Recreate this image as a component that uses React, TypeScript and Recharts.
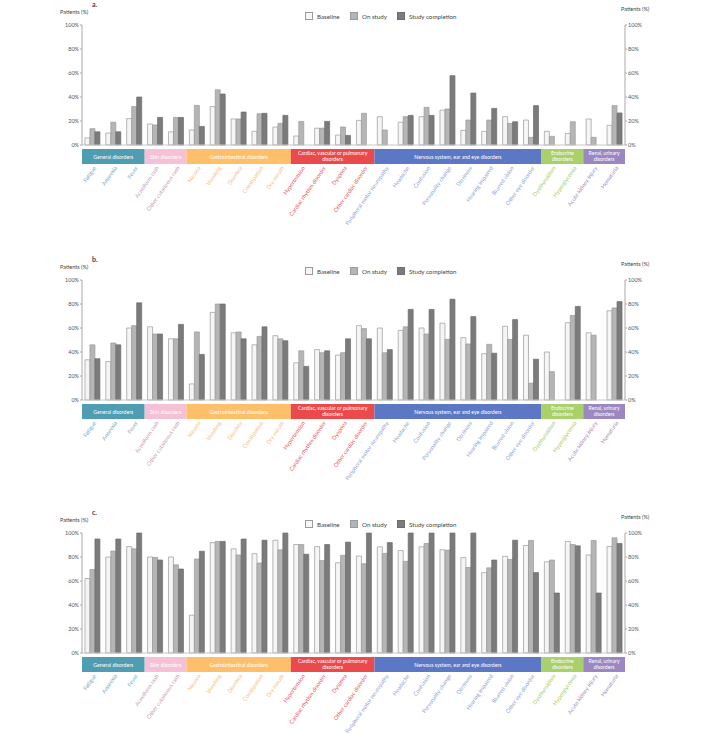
import { ComposedChart, Bar, Line, XAxis, YAxis } from 'recharts';

const categories = [
  'Fatigue', 'Anorexia', 'Fever', 'Acneiform rash', 'Other cutaneous rash',
  'Nausea', 'Vomiting', 'Diarrhea', 'Constipation', 'Dry mouth',
  'Hypertension', 'Cardiac rhythm disorder', 'Dyspnea', 'Other cardiac disorder',
  'Peripheral motor neuropathy', 'Headache', 'Confusion', 'Personality change',
  'Dizziness', 'Hearing impaired', 'Blurred vision', 'Other eye disorder',
  'Dysthyroidism', 'Hyperglycemia', 'Acute kidney injury', 'Hematuria',
];

const groupNames = [
  ['General disorders'],
  ['Skin disorders'],
  ['Gastrointestinal disorders'],
  ['Cardiac, vascular or pulmonary', 'disorders'],
  ['Nervous system, ear and eye disorders'],
  ['Endocrine', 'disorders'],
  ['Renal,  urinary', 'disorders'],
];
const groupSizes = [3, 2, 5, 4, 8, 2, 2];
const groupColors = ['#4f9db3', '#f6c1d7', '#fdbf69', '#eb4a4c', '#5c78c4', '#a9d06b', '#9c88c0'];
const labelColors = ['#6fa5ba', '#c59bb3', '#f6bd84', '#e4585d', '#8e9fd6', '#a6cc62', '#9f8ac0'];

const seriesNames = ['Baseline', 'On study', 'Study completion'];
const yTicks = [0, 20, 40, 60, 80, 100];

// panel a
const aBaseline = [6, 10, 22, 17.5, 11, 12.5, 32, 21.7, 11.4, 15, 7.5, 14, 8.3, 20.5, 23.6, 19, 23.6, 29, 12.2, 11.4, 23.6, 20.8, 11.4, 9.7, 21.7, 16.4];
const aOnStudy = [13.6, 19, 32, 16.7, 23, 33, 46, 21.7, 26, 18, 19.7, 14, 15, 26.4, 12.5, 23.6, 31.4, 30, 20.8, 20.8, 18, 6.4, 7.2, 19.4, 6.4, 32.8];
const aCompletion = [11, 11, 40, 23, 23, 15.5, 42.5, 27.5, 26.4, 24.7, null, 19.7, 8, null, null, 24.7, 24.7, 57.8, 43.3, 30.5, 19.4, 32.8, null, null, null, 26.7];

// panel b
const bBaseline = [33.5, 32, 60, 61, 51, 13.4, 73, 56, 46, 53.6, 31, 42, 37.4, 62, 60, 58, 60, 64, 52, 38.6, 61.4, 54, 40, 64.4, 56, 74.4];
const bOnStudy = [46, 47.5, 62, 55, 51, 56.7, 80, 56.7, 53, 51, 41, 39.4, 39.4, 59.5, 39.4, 61, 55, 50.5, 46.7, 46.4, 50.5, 14, 23.6, 70.5, 54, 76.7];
const bCompletion = [34.4, 46, 81, 55, 63, 38, 80, 51, 61, 49.4, 28, 41, 51, 51, 42, 75.5, 75.5, 84, 69.5, 39, 67, 34, null, 78, null, 82];

// panel c
const cBaseline = [62, 80, 88.7, 80, 80, 31.5, 92, 86.8, 82.8, 94, 90.4, 88.7, 75.2, 80.8, 88.5, 85.4, 88.5, 86, 79.5, 67, 80.6, 89.6, 76, 93, 81.7, 88.8];
const cOnStudy = [69.6, 85, 86.8, 79.7, 73.5, 78.3, 93, 81.7, 75, 86, 90.4, 77, 81.4, 74.4, 83, 76.4, 91.3, 85.7, 71.3, 71, 78, 93.8, 77.5, 90.4, 93.8, 96];
const cCompletion = [95, 95, 100, 77.5, 70, 84.8, 93, 95, 94, 100, 82.3, 90.4, 92.4, 100, 92, 100, 100, 100, 100, 77.5, 94, 67, 50, 89.3, 50, 91.3];

const FONT = 'Lato, "Open Sans", sans-serif';
const CHART_W = 705;
const CHART_H = 232;
const MARGIN = { top: 25, right: 50, bottom: 0, left: 52 };
const YAXIS_W = 30;
const XAXIS_H = 87;
const PLOT_W = CHART_W - MARGIN.left - MARGIN.right - 2 * YAXIS_W;
const STEP = PLOT_W / categories.length;
const LEGEND_X = [305, 350, 397];

const groupOf: number[] = [];
const groupStart: number[] = [];
groupSizes.forEach((n, g) => {
  groupStart.push(groupOf.length);
  for (let i = 0; i < n; i++) groupOf.push(g);
});

const fills = ['#f5f5f5', '#b5b5b5', '#7b7b7b'];
const strokes = ['#9a9a9a', '#9a9a9a', '#6d6d6d'];

function CategoryTick({ x, y, payload, index }: any) {
  const g = groupOf[index];
  const first = groupStart[g] === index;
  const lines = groupNames[g];
  const top = y + 2;
  const w = groupSizes[g] * STEP;
  const cx = x - STEP / 2 + w / 2;
  const lx = x + 4;
  const ly = top + 19;
  return (
    <g>
      {first && (
        <g>
          <rect x={x - STEP / 2} y={top} width={w} height={15} fill={groupColors[g]} />
          <text x={cx} y={top + (lines.length > 1 ? 6 : 9.5)} textAnchor="middle" fill="#fff" fontSize={5.2} fontFamily={FONT}>
            {lines.map((l, i) => (
              <tspan key={i} x={cx} dy={i === 0 ? 0 : 6.3}>{l}</tspan>
            ))}
          </text>
        </g>
      )}
      <text
        x={lx}
        y={ly}
        textAnchor="end"
        fill={labelColors[g]}
        fontSize={5.6}
        fontFamily={FONT}
        transform={`rotate(-55 ${lx} ${ly})`}
      >
        {payload.value}
      </text>
    </g>
  );
}

function Panel({ top, title, baseline, onStudy, completion }: any) {
  const data = categories.map((name, i) => ({
    name,
    baseline: baseline[i],
    onStudy: onStudy[i],
    completion: completion[i],
  }));
  const keys = ['baseline', 'onStudy', 'completion'];
  const axisTick = { fontSize: 5.5, fill: '#555', fontFamily: FONT };
  return (
    <div style={{ position: 'absolute', left: 0, top, width: CHART_W, height: CHART_H, fontFamily: FONT }}>
      <div style={{ position: 'absolute', left: 92, top: 0, fontSize: 7, fontWeight: 'bold', color: '#444' }}>{title}</div>
      <div style={{ position: 'absolute', left: 60, top: 9, fontSize: 5.5, color: '#444' }}>Patients (%)</div>
      <div style={{ position: 'absolute', left: 621, top: 6, fontSize: 5.5, color: '#444' }}>Patients (%)</div>
      {seriesNames.map((s, i) => (
        <div key={s} style={{ position: 'absolute', left: LEGEND_X[i], top: 12, display: 'flex', alignItems: 'center', fontSize: 6.2, color: '#444', whiteSpace: 'nowrap' }}>
          <div style={{ width: 6, height: 6, background: fills[i], border: `1px solid ${strokes[i]}`, marginRight: 4 }} />
          {s}
        </div>
      ))}
      <ComposedChart width={CHART_W} height={CHART_H} data={data} margin={MARGIN} barCategoryGap="14%" barGap={0}>
        <XAxis
          dataKey="name"
          interval={0}
          tick={(p: any) => <CategoryTick {...p} />}
          tickLine={false}
          tickSize={0}
          axisLine={{ stroke: '#c8c8c8' }}
          height={XAXIS_H}
        />
        <YAxis
          yAxisId="left"
          domain={[0, 100]}
          ticks={yTicks}
          tickFormatter={(v: number) => `${v}%`}
          width={YAXIS_W}
          tick={axisTick}
          tickSize={2}
          tickMargin={1}
          axisLine={{ stroke: '#aaa' }}
          tickLine={{ stroke: '#aaa' }}
        />
        <YAxis
          yAxisId="right"
          orientation="right"
          domain={[0, 100]}
          ticks={yTicks}
          tickFormatter={(v: number) => `${v}%`}
          width={YAXIS_W}
          tick={axisTick}
          tickSize={2}
          tickMargin={1}
          axisLine={{ stroke: '#aaa' }}
          tickLine={{ stroke: '#aaa' }}
        />
        {keys.map((k, i) => (
          <Bar
            key={k}
            yAxisId="left"
            dataKey={k}
            name={seriesNames[i]}
            fill={fills[i]}
            stroke={strokes[i]}
            strokeWidth={0.7}
            isAnimationActive={false}
          />
        ))}
        <Line
          yAxisId="right"
          dataKey="baseline"
          stroke="none"
          dot={false}
          activeDot={false}
          legendType="none"
          isAnimationActive={false}
        />
      </ComposedChart>
    </div>
  );
}

export default function App() {
  return (
    <div style={{ position: 'fixed', left: 0, top: 0, width: 705, height: 733, background: '#fff', overflow: 'hidden' }}>
      <Panel top={0} title="a." baseline={aBaseline} onStudy={aOnStudy} completion={aCompletion} />
      <Panel top={255} title="b." baseline={bBaseline} onStudy={bOnStudy} completion={bCompletion} />
      <Panel top={508} title="c." baseline={cBaseline} onStudy={cOnStudy} completion={cCompletion} />
    </div>
  );
}
